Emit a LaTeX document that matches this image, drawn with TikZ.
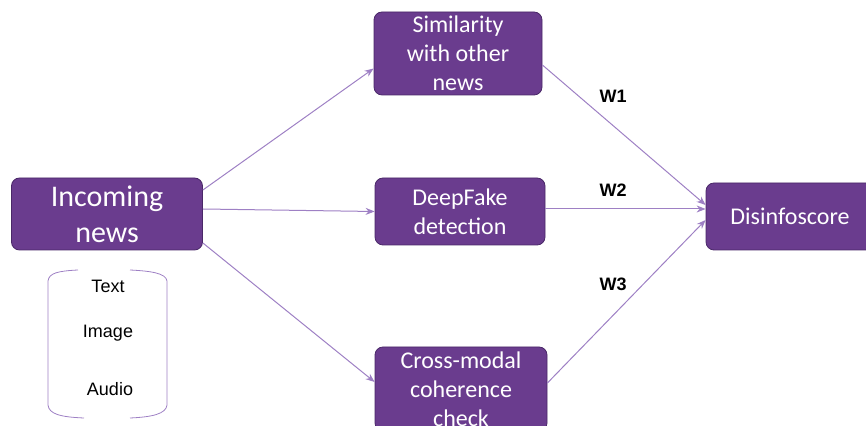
\documentclass[tikz,border=0pt]{standalone}
\usepackage{fontspec}
\setmainfont{Liberation Sans}
\newfontfamily\boxfont{Carlito}
\usetikzlibrary{arrows.meta}

\definecolor{newsfill}{HTML}{6A3C8E}
\definecolor{newsdraw}{HTML}{4A2868}
\definecolor{newsline}{HTML}{9E80C4}

\begin{document}
\begin{tikzpicture}[
    % one unit is one pixel of the reference, y goes down
    x=0.5pt, y=-0.5pt,
    newsbox/.style={draw=newsdraw, fill=newsfill, rounded corners=4pt,
        text=white, align=center, inner sep=0pt, font=\boxfont\fontsize{12}{14.5}\selectfont},
    flow/.style={draw=newsline, line width=0.5pt, -{Stealth[length=4.5pt,width=3.5pt]}},
    weight/.style={font=\bfseries\fontsize{9}{11}\selectfont},
    media/.style={font=\fontsize{9}{11}\selectfont}
]
    \useasboundingbox (0,0) rectangle (866,426);

    % --- Define the boxes ---
    \node[newsbox, minimum width=95.5pt, minimum height=36pt,
        font=\boxfont\fontsize{15}{18}\selectfont] (incoming) at (107,214) {Incoming\\news};

    \node[newsbox, minimum width=84pt, minimum height=41.5pt] (similarity) at (458,53.5) {Similarity\\with other\\news};
    \node[newsbox, minimum width=85pt, minimum height=33.5pt] (deepfake) at (460,211.5) {DeepFake\\detection};
    \node[newsbox, minimum width=86pt, minimum height=42pt] (crossmodal) at (461,389) {Cross-modal\\coherence\\check};

    \node[newsbox, minimum width=84pt, minimum height=33.5pt] (disinfo) at (790,216.5) {Disinfoscore};

    % --- Media types below the incoming news ---
    \node[media] (text) at (108,286) {Text};
    \node[media] (image) at (108,333) {Image};
    \node[media] (audio) at (110,389) {Audio};

    \draw[newsline] (78,270) .. controls (58,271) and (49,273) .. (48,281) -- (48,405)
        .. controls (49,414) and (60,417) .. (84,418);
    \draw[newsline] (130,270) .. controls (150,271) and (166,273) .. (167,281) -- (167,405)
        .. controls (166,414) and (152,417) .. (130,418);

    % --- Arrows from the incoming news ---
    \draw[flow] ([yshift=12pt]incoming.east) -- ([yshift=-7.5pt]similarity.west);
    \draw[flow] ([yshift=2.5pt]incoming.east) -- (deepfake.west);
    \draw[flow] ([yshift=-14.5pt]incoming.east) -- ([yshift=3.5pt]crossmodal.west);

    % --- Weighted arrows into the score ---
    \draw[flow] ([yshift=-5.75pt]similarity.east) -- ([yshift=5.75pt]disinfo.west);
    \draw[flow] ([yshift=1.25pt]deepfake.east) -- ([yshift=3.75pt]disinfo.west);
    \draw[flow] ([yshift=3pt]crossmodal.east) -- ([yshift=-1.75pt]disinfo.west);

    \node[weight] (w1) at (613,96) {W1};
    \node[weight] (w2) at (613,190) {W2};
    \node[weight] (w3) at (613,284) {W3};

\end{tikzpicture}
\end{document}
